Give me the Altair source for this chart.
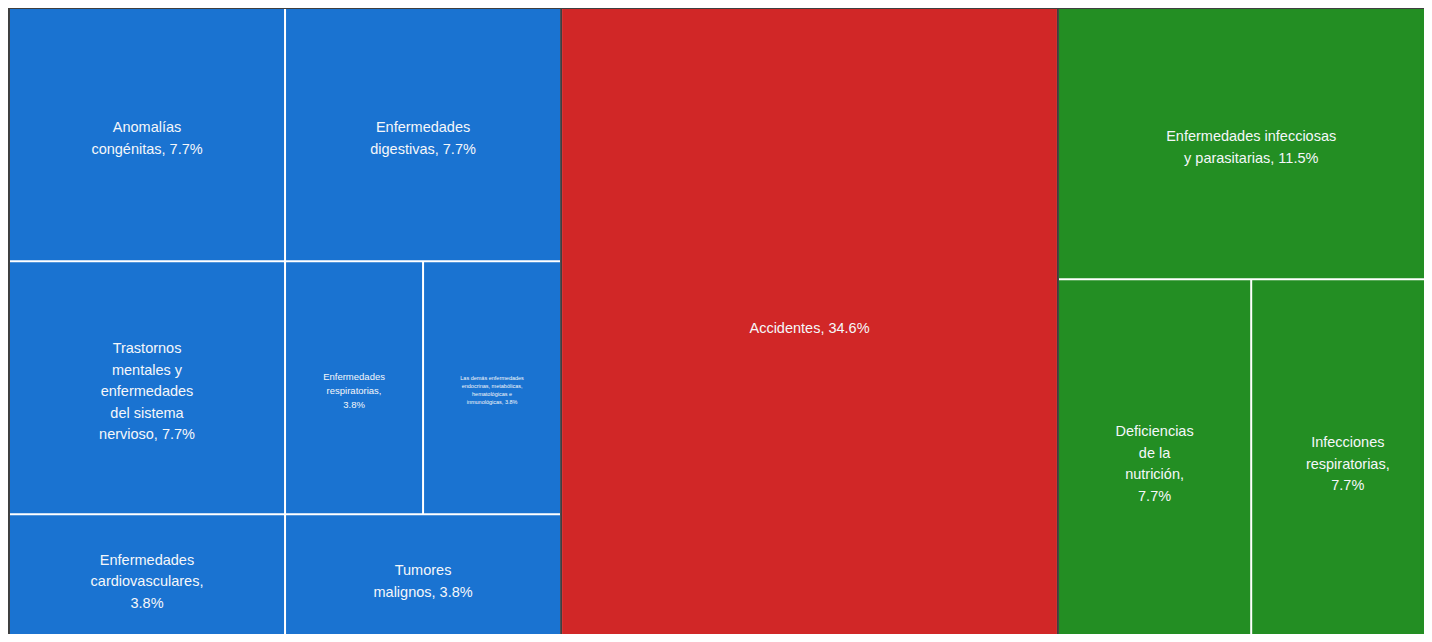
import altair as alt
import pandas as pd

# ---- data ----
categories = [
    "Anomalías congénitas", "Enfermedades digestivas",
    "Trastornos mentales y enfermedades del sistema nervioso",
    "Enfermedades respiratorias",
    "Las demás enfermedades endocrinas, metabólicas, hematológicas e inmunológicas",
    "Enfermedades cardiovasculares", "Tumores malignos",
    "Accidentes",
    "Enfermedades infecciosas y parasitarias", "Deficiencias de la nutrición",
    "Infecciones respiratorias",
]
labels = [
    "Anomalías\ncongénitas, {p}", "Enfermedades\ndigestivas, {p}",
    "Trastornos\nmentales y\nenfermedades\ndel sistema\nnervioso, {p}",
    "Enfermedades\nrespiratorias,\n{p}",
    "Las demás enfermedades\nendocrinas, metabólicas,\nhematológicas e\ninmunológicas, {p}",
    "Enfermedades\ncardiovasculares,\n{p}", "Tumores\nmalignos, {p}",
    "Accidentes, {p}",
    "Enfermedades infecciosas\ny parasitarias, {p}", "Deficiencias\nde la\nnutrición,\n{p}",
    "Infecciones\nrespiratorias,\n{p}",
]
values = [2, 2, 2, 1, 1, 1, 1, 9, 3, 2, 2]
groups = ["g1"] * 7 + ["g2"] + ["g3"] * 3
rows = [0, 0, 1, 1, 1, 2, 2, 0, 0, 1, 1]
size_class = ["l", "l", "l", "s", "xs", "l", "l", "l", "l", "l", "l"]
group_order = ["g1", "g2", "g3"]
group_colors = ["#1a73d1", "#d12727", "#238e23"]

# text styles per size class: font size, line height, baseline shift
text_styles = {"l": (14.5, 21.5, 4.5), "s": (9.5, 14, 3), "xs": (5.5, 8, 2)}

# ---- treemap layout from values (group columns -> rows -> cells) ----
total = sum(values)
recs = []
gx = 0.0
for g in group_order:
    idx = [i for i in range(len(values)) if groups[i] == g]
    gsum = sum(values[i] for i in idx)
    gw = gsum
    gy = 0.0
    for r in sorted(set(rows[i] for i in idx)):
        ridx = [i for i in idx if rows[i] == r]
        rsum = sum(values[i] for i in ridx)
        rh = rsum / gsum
        cx = gx
        for i in ridx:
            cw = gw * values[i] / rsum
            pct = f"{values[i] / total * 100:.1f}%"
            lab = labels[i].replace("{p}", pct)
            recs.append(dict(cat=categories[i], group=g, x0=cx, x1=cx + cw,
                             y0=gy, y1=gy + rh, xm=cx + cw / 2, ym=gy + rh / 2,
                             label=lab, sc=size_class[i], nl=lab.count("\n") + 1))
            cx += cw
        gy += rh
    gx += gw

df = pd.DataFrame(recs)
gdf = df.groupby("group").agg(x0=("x0", "min"), x1=("x1", "max"),
                              y0=("y0", "min"), y1=("y1", "max")).reset_index()

# visible window of the treemap (the reference is cropped on the right and bottom)
xs = alt.Scale(domain=[-0.018, 25.63], nice=False, zero=False)
ys = alt.Scale(domain=[0, 0.989], reverse=True, nice=False, zero=False)
color = alt.Color("group:N", scale=alt.Scale(domain=group_order, range=group_colors), legend=None)

groups_layer = alt.Chart(gdf).mark_rect(
    color="white", xOffset=1, x2Offset=-1, yOffset=1, y2Offset=-1, clip=True
).encode(
    x=alt.X("x0:Q", scale=xs, axis=None), x2="x1:Q",
    y=alt.Y("y0:Q", scale=ys, axis=None), y2="y1:Q",
)

cells = alt.Chart(df).mark_rect(
    xOffset=1, x2Offset=-1, yOffset=1, y2Offset=-1, clip=True, opacity=1
).encode(
    x=alt.X("x0:Q", scale=xs, axis=None), x2="x1:Q",
    y=alt.Y("y0:Q", scale=ys, axis=None), y2="y1:Q",
    color=color,
)

def text_layer(sc, nl):
    fs, lh, shift = text_styles[sc]
    return alt.Chart(df).transform_filter(
        (alt.datum.sc == sc) & (alt.datum.nl == nl)
    ).mark_text(
        align="center", baseline="middle", color="#f5f7fa", font="Liberation Sans",
        fontSize=fs, lineHeight=lh, lineBreak="\n", clip=True,
        dy=-(nl - 1) * lh / 2 + shift,
    ).encode(
        x=alt.X("xm:Q", scale=xs, axis=None),
        y=alt.Y("ym:Q", scale=ys, axis=None),
        text="label:N",
    )

combos = sorted(set(zip(df["sc"], df["nl"])))
text_layers = [text_layer(sc, int(nl)) for sc, nl in combos]

chart = alt.layer(groups_layer, cells, *text_layers).properties(
    width=1416, height=626, background="#3f3f3f", padding=0,
    autosize=alt.AutoSizeParams(type="none"),
).configure_view(stroke=None)

chart.save("out.html", embed_options={"renderer": "svg", "actions": False})
